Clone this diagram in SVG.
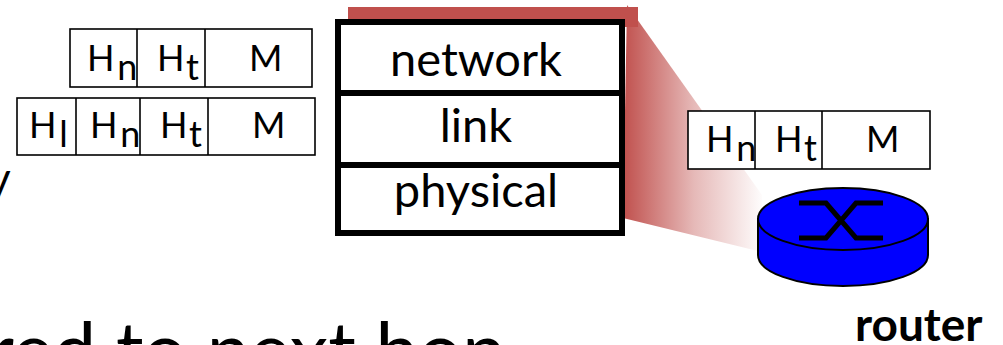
<svg xmlns="http://www.w3.org/2000/svg" width="1003" height="345" viewBox="0 0 1003 345">
<defs>
<linearGradient id="fade" gradientUnits="userSpaceOnUse" x1="623" y1="0" x2="765" y2="0">
<stop offset="0" stop-color="#C0504D" stop-opacity="1"/>
<stop offset="0.5" stop-color="#C0504D" stop-opacity="0.4"/>
<stop offset="1" stop-color="#C0504D" stop-opacity="0"/>
</linearGradient>
</defs>
<style>
.t{font-family:Lato,"Open Sans","Liberation Sans",sans-serif;fill:#000}
.pk{font-size:36px}
.lay{font-size:47px;text-anchor:middle}
.cell{fill:#fff;stroke:#000;stroke-width:1.6}
.div{stroke:#000;stroke-width:1.6}
</style>
<rect width="1003" height="345" fill="#fff"/>
<g id="zoom-highlight">
<rect x="348" y="7" width="290" height="20" fill="#C0504D"/>
<polygon points="627,5 762,195 762,252 623,218" fill="url(#fade)"/>
</g>
<g id="packet-network">
<rect class="cell" x="70" y="29" width="242" height="58"/>
<line class="div" x1="137" y1="29" x2="137" y2="87"/>
<line class="div" x1="205" y1="29" x2="205" y2="87"/>
<text class="t pk" x="87" y="71">H<tspan dx="3" dy="9">n</tspan></text>
<text class="t pk" x="157" y="71">H<tspan dx="2" dy="9">t</tspan></text>
<text class="t pk" x="249" y="71">M</text>
</g>
<g id="packet-link">
<rect class="cell" x="17" y="98" width="298" height="57"/>
<line class="div" x1="76" y1="98" x2="76" y2="155"/>
<line class="div" x1="140" y1="98" x2="140" y2="155"/>
<line class="div" x1="208" y1="98" x2="208" y2="155"/>
<text class="t pk" x="29" y="138">H<tspan dx="3" dy="9">l</tspan></text>
<text class="t pk" x="90" y="138">H<tspan dx="3" dy="9">n</tspan></text>
<text class="t pk" x="160" y="138">H<tspan dx="2" dy="9">t</tspan></text>
<text class="t pk" x="252" y="138">M</text>
</g>
<g id="stack">
<rect x="338" y="22" width="284" height="211" fill="#fff" stroke="#000" stroke-width="6"/>
<line x1="338" y1="93" x2="622" y2="93" stroke="#000" stroke-width="6"/>
<line x1="338" y1="165" x2="622" y2="165" stroke="#000" stroke-width="6"/>
<text class="t lay" x="476" y="76">network</text>
<text class="t lay" x="476" y="142">link</text>
<text class="t lay" x="476" y="207">physical</text>
</g>
<g id="packet-router">
<rect class="cell" x="688" y="111" width="242" height="58"/>
<line class="div" x1="755" y1="111" x2="755" y2="169"/>
<line class="div" x1="822" y1="111" x2="822" y2="169"/>
<text class="t pk" x="706" y="152">H<tspan dx="3" dy="9">n</tspan></text>
<text class="t pk" x="775" y="152">H<tspan dx="2" dy="9">t</tspan></text>
<text class="t pk" x="866" y="152">M</text>
</g>
<g id="router">
<path d="M758,219 V255 A85,31 0 0 0 928,255 V219 Z" fill="#0000FF" stroke="#000" stroke-width="2"/>
<ellipse cx="843" cy="219" rx="85" ry="31" fill="#0000FF" stroke="#000" stroke-width="2"/>
<path d="M799,203 H826 L856,238 H883 M799,238 H826 L856,203 H883" fill="none" stroke="#000" stroke-width="5"/>
<text class="t" x="855" y="341" font-size="46" font-weight="bold">router</text>
</g>
<g id="connectors"></g>
<text class="t" x="-12" y="194" font-size="44">y</text>
<text class="t" x="-14" y="378" font-size="77">red to next hop</text>
</svg>
